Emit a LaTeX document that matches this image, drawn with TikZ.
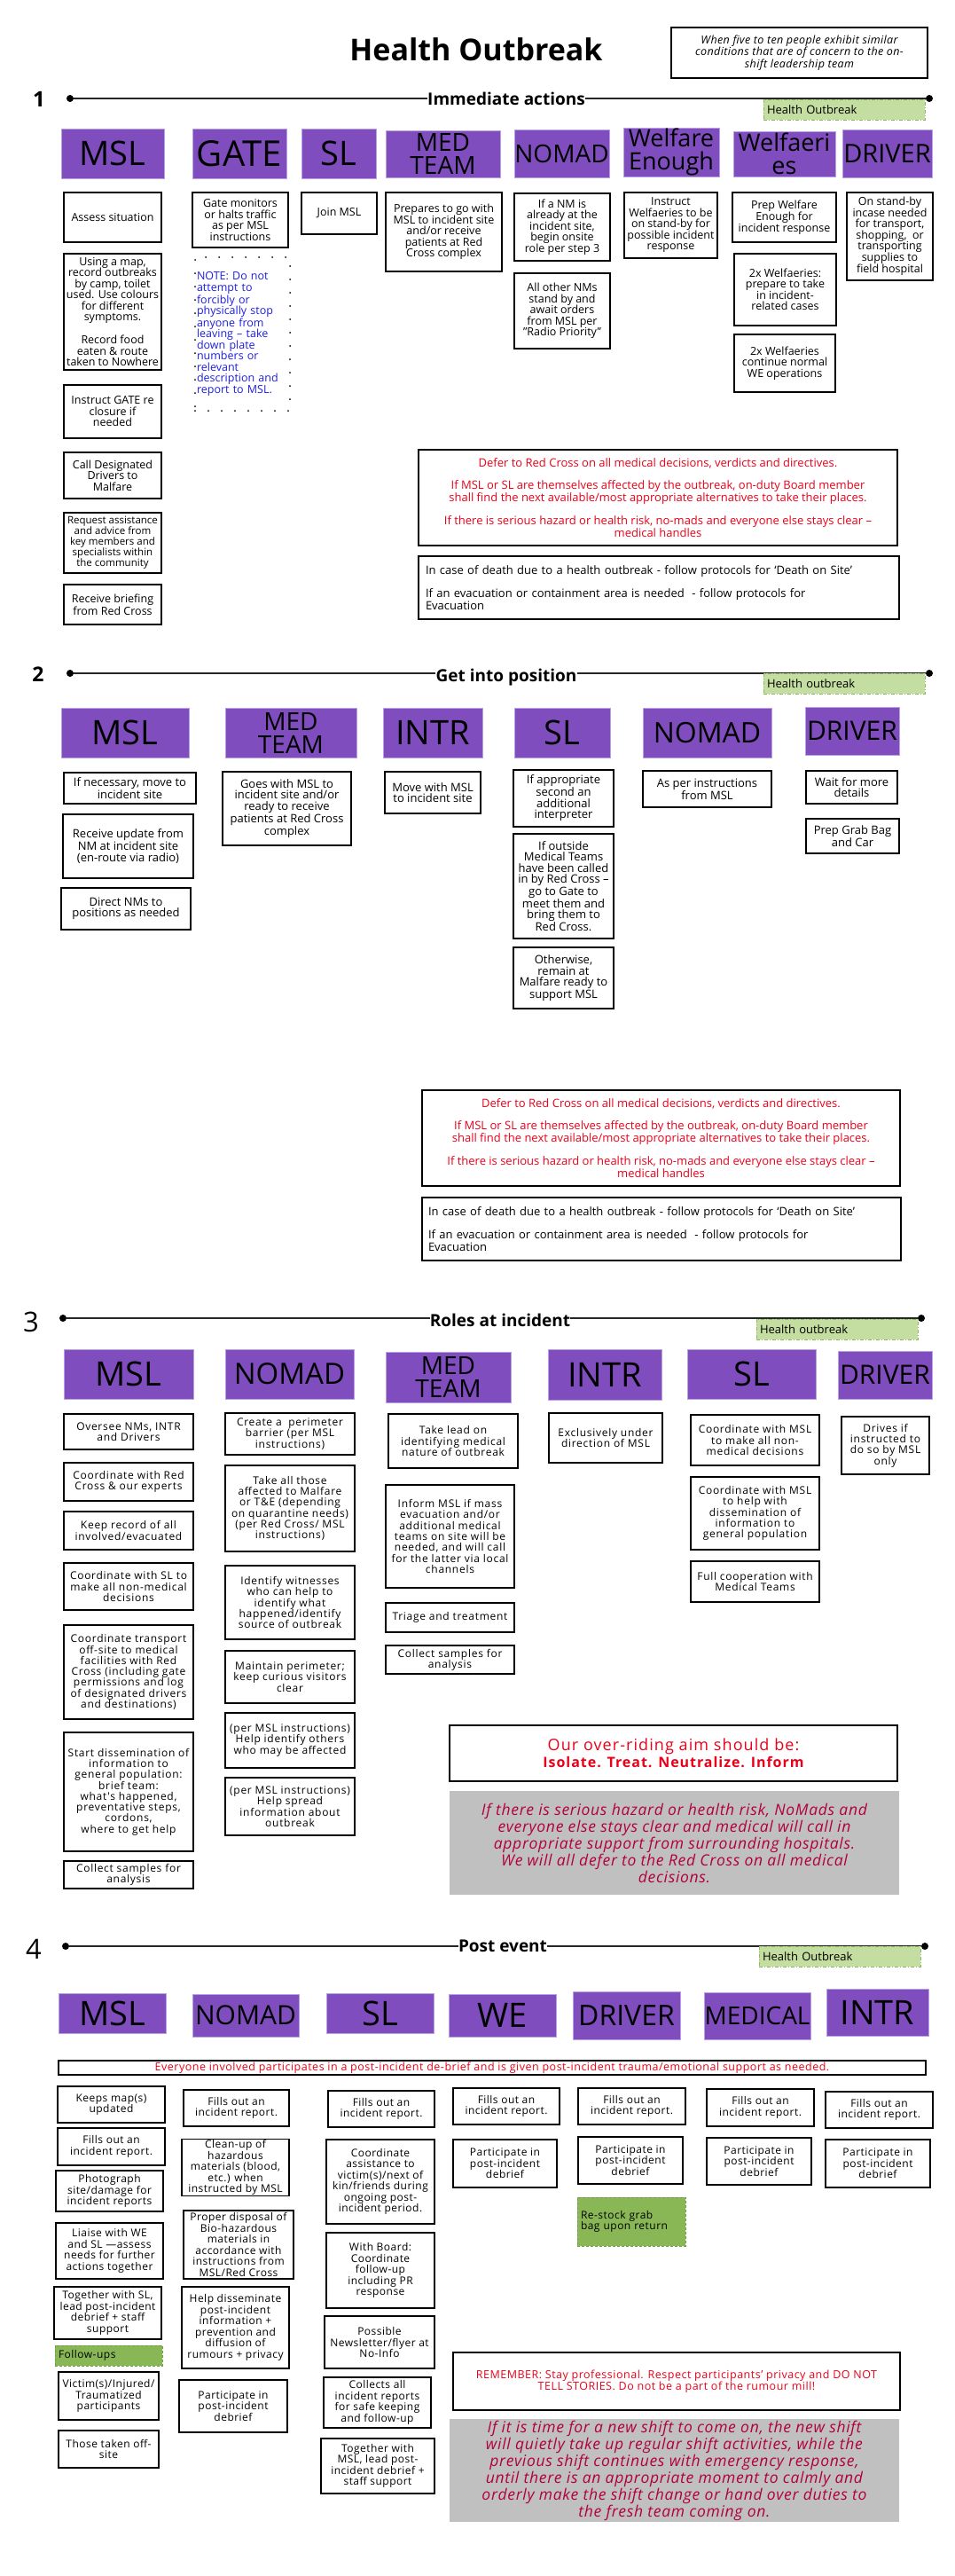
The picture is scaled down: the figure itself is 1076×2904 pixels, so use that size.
\documentclass[tikz,border=0pt]{standalone}
\usepackage{fontspec}
\setmainfont{Open Sans}
\newfontfamily\lsA[LetterSpace=6]{Open Sans}
\newfontfamily\lsB[LetterSpace=4]{Open Sans}
\newfontfamily\lsG[LetterSpace=4]{Open Sans}
\newfontfamily\lsI[LetterSpace=3]{Open Sans}
\definecolor{purp}{RGB}{128,77,190}
\definecolor{purpedge}{RGB}{185,160,228}
\definecolor{taglight}{RGB}{196,221,160}
\definecolor{tagedge}{RGB}{140,185,95}
\definecolor{taggreen}{RGB}{137,183,86}
\definecolor{taggreenedge}{RGB}{110,160,70}
\definecolor{redtxt}{RGB}{235,0,25}
\definecolor{crimson}{RGB}{178,0,60}
\definecolor{graybg}{RGB}{192,192,192}
\definecolor{bluetxt}{RGB}{30,30,225}
\newcommand{\fsone}{\fontsize{12.5}{12.5}\selectfont}
\newcommand{\fstwo}{\fontsize{13}{12.5}\selectfont}
\newcommand{\fsthree}{\lsA\fontsize{12}{12.3}\selectfont}
\newcommand{\fsfour}{\lsB\fontsize{12}{12.5}\selectfont}
\newcommand{\graytxt}{\lsG\itshape\fontsize{17.5}{19}\selectfont}
\tikzset{
  cbox/.style={draw=black, line width=1.5pt, fill=white, inner sep=1pt, align=center},
  pbox/.style={fill=purp, draw=purpedge, line width=1pt, inner sep=0pt, align=center},
  tagbox/.style={fill=taglight, draw=tagedge, line width=1pt, dash pattern=on 4pt off 2pt on 1pt off 2pt,
     inner xsep=4pt, inner ysep=0pt, align=left, font=\fontsize{13}{13}\selectfont},
  greenbox/.style={fill=taggreen, draw=taggreenedge, line width=1pt, dash pattern=on 3pt off 2pt,
     inner xsep=4pt, inner ysep=0pt, align=left},
  notebox/.style={draw=black, line width=2pt, line cap=round, dash pattern=on 0pt off 15pt,
     text=bluetxt, align=left, inner sep=1pt, font=\fsone},
  graybox/.style={fill=graybg, draw=none, inner sep=0pt, align=center, text=crimson, font=\graytxt},
  headlab/.style={font=\bfseries\fontsize{19}{19}\selectfont, inner sep=0pt, anchor=base},
  numlab/.style={inner sep=0pt, anchor=base},
  dotn/.style={circle, fill=black, inner sep=0pt, minimum size=8pt},
  hline/.style={line width=1.1pt, black!85},
}
\newcommand{\pb}[8]{\node[pbox, minimum width={#4-#2}, minimum height={#5-#3}, font=\fontsize{#6}{#7}\selectfont] (#1) at ({(#2+#4)/2},{(#3+#5)/2}) {#8};}
\newcommand{\bx}[7][]{\node[cbox, #1, minimum width={#5-#3}, minimum height={#6-#4}] (#2) at ({(#3+#5)/2},{(#4+#6)/2}) {#7};}
\newcommand{\tagb}[6]{\node[tagbox, text width={#4-#2-8}, minimum height={#5-#3}] (#1) at ({(#2+#4)/2},{(#3+#5)/2}) {#6};}
\begin{document}
\begin{tikzpicture}[x=1pt, y=-1pt]
\fill[white] (0,0) rectangle (1076,2904);
\useasboundingbox (0,0) rectangle (1076,2904);

% ---------- title ----------
\node[font=\bfseries\fontsize{34}{34}\selectfont, anchor=base, inner sep=0pt] (title) at (537,68) {Health Outbreak};
\bx[font=\lsI\itshape\fontsize{12.5}{12.5}\selectfont]{intro}{757}{31}{1046}{88}{When five to ten people exhibit similar\\conditions that are of concern to the on-\\shift leadership team}

% ---------- section 1 ----------
\node[numlab, font=\bfseries\fontsize{24}{24}\selectfont] (n1) at (44,120) {1};
\node[dotn] (d1a) at (79,111) {};
\node[dotn] (d1b) at (1048,111) {};
\node[headlab] (h1) at (571,118) {Immediate actions};
\draw[hline] (d1a) -- (d1a -| h1.west);
\draw[hline] (d1b -| h1.east) -- (d1b);
\tagb{t1}{861}{112}{1043}{135}{Health Outbreak}

\pb{p1msl}{69}{145}{185}{201}{38}{38}{MSL}
\pb{p1gate}{217}{145}{323}{201}{40}{40}{GATE}
\pb{p1sl}{340}{145}{424}{201}{38}{38}{SL}
\pb{p1med}{435}{147}{564}{200}{28}{26}{MED\\TEAM}
\pb{p1nomad}{580}{146}{687}{200}{28}{28}{NOMAD}
\pb{p1welf}{703}{144}{811}{199}{27}{26}{Welfare\\Enough}
\pb{p1wfs}{827}{148}{942}{199}{27}{26}{Welfaeri\\es}
\pb{p1drv}{950}{146}{1051}{200}{29}{29}{DRIVER}

\begin{scope}[cbox/.append style={font=\fsone}]
\bx{b1a}{72}{217}{182}{273}{Assess situation}
\bx{b1b}{72}{286}{182}{417}{Using a map,\\record outbreaks\\by camp, toilet\\used. Use colours\\for different\\symptoms.\\[12pt]Record food\\eaten \& route\\taken to Nowhere}
\bx{b1c}{72}{434}{182}{494}{Instruct GATE re\\closure if\\needed}
\bx{b1d}{72}{510}{182}{562}{Call Designated\\Drivers to\\Malfare}
\bx[font=\fontsize{11.5}{12}\selectfont]{b1e}{72}{578}{182}{646}{Request assistance\\and advice from\\key members and\\specialists within\\the community}
\bx{b1f}{72}{659}{182}{704}{Receive briefing\\from Red Cross}
\bx{b1g}{217}{217}{325}{279}{Gate monitors\\or halts traffic\\as per MSL\\instructions}
\bx{b1h}{340}{217}{425}{264}{Join MSL}
\bx{b1i}{435}{217}{566}{306}{Prepares to go with\\MSL to incident site\\and/or receive\\patients at Red\\Cross complex}
\bx{b1j}{580}{218}{688}{294}{If a NM is\\already at the\\incident site,\\begin onsite\\role per step 3}
\bx{b1k}{580}{308}{688}{393}{All other NMs\\stand by and\\await orders\\from MSL per\\"Radio Priority"}
\bx{b1l}{704}{217}{809}{291}{Instruct\\Welfaeries to be\\on stand-by for\\possible incident\\response}
\bx{b1m}{826}{217}{943}{273}{Prep Welfare\\Enough for\\incident response}
\bx{b1n}{828}{286}{943}{367}{2x Welfaeries:\\prepare to take\\in incident-\\related cases}
\bx{b1o}{828}{377}{942}{442}{2x Welfaeries\\continue normal\\WE operations}
\bx{b1p}{955}{217}{1052}{316}{On stand-by\\incase needed\\for transport,\\shopping,~ or\\transporting\\supplies to\\field hospital}
\end{scope}
\node[notebox, minimum width=107, minimum height=173, text width=103] (gnote) at (273.5,376.5) {NOTE: Do not\\attempt to\\forcibly or\\physically stop\\anyone from\\leaving – take\\down plate\\numbers or\\relevant\\description and\\report to MSL.};

\bx[text=redtxt, font=\fontsize{13}{12.5}\selectfont]{r1}{472}{507}{1012}{615}{Defer to Red Cross on all medical decisions, verdicts and directives.\\[12.5pt]If MSL or SL are themselves affected by the outbreak, on-duty Board member\\shall find the next available/most appropriate alternatives to take their places.\\[12.5pt]If there is serious hazard or health risk, no-mads and everyone else stays clear –\\medical handles}
\bx[align=left, text width=526, font=\fontsize{13}{12.5}\selectfont]{k1}{472}{627}{1014}{698}{In case of death due to a health outbreak - follow protocols for `Death on Site'\\[12.5pt]If an evacuation or containment area is needed~ - follow protocols for\\Evacuation}

% ---------- section 2 ----------
\node[numlab, font=\bfseries\fontsize{23}{23}\selectfont] (n2) at (43,768) {2};
\node[dotn] (d2a) at (79,759) {};
\node[dotn] (d2b) at (1048,759) {};
\node[headlab] (h2) at (571,768) {Get into position};
\draw[hline] (d2a) -- (d2a -| h2.west);
\draw[hline] (d2b -| h2.east) -- (d2b);
\tagb{t2}{861}{759}{1043}{782}{Health outbreak}

\pb{p2msl}{69}{798}{213}{854}{38}{38}{MSL}
\pb{p2med}{254}{798}{402}{854}{28}{26}{MED\\TEAM}
\pb{p2intr}{432}{798}{544}{854}{38}{38}{INTR}
\pb{p2sl}{580}{798}{688}{854}{38}{38}{SL}
\pb{p2nomad}{725}{798}{870}{854}{32}{32}{NOMAD}
\pb{p2drv}{908}{797}{1014}{851}{30}{30}{DRIVER}

\begin{scope}[cbox/.append style={font=\fstwo}]
\bx{b2a}{72}{871}{221}{906}{If necessary, move to\\incident site}
\bx{b2b}{71}{918}{218}{990}{Receive update from\\NM at incident site\\(en-route via radio)}
\bx{b2c}{69}{1001}{215}{1048}{Direct NMs to\\positions as needed}
\bx{b2d}{251}{870}{396}{953}{Goes with MSL to\\incident site and/or\\ready to receive\\patients at Red Cross\\complex}
\bx{b2e}{434}{870}{542}{917}{Move with MSL\\to incident site}
\bx{b2f}{579}{868}{692}{932}{If appropriate\\second an\\additional\\interpreter}
\bx{b2g}{579}{940}{692}{1058}{If outside\\Medical Teams\\have been called\\in by Red Cross –\\go to Gate to\\meet them and\\bring them to\\Red Cross.}
\bx{b2h}{579}{1068}{692}{1137}{Otherwise,\\remain at\\Malfare ready to\\support MSL}
\bx{b2i}{725}{869}{870}{910}{As per instructions\\from MSL}
\bx{b2j}{909}{869}{1012}{906}{Wait for more\\details}
\bx{b2k}{909}{923}{1014}{962}{Prep Grab Bag\\and Car}
\end{scope}
\bx[text=redtxt, font=\fontsize{13}{12.5}\selectfont]{r2}{476}{1229}{1015}{1337}{Defer to Red Cross on all medical decisions, verdicts and directives.\\[12.5pt]If MSL or SL are themselves affected by the outbreak, on-duty Board member\\shall find the next available/most appropriate alternatives to take their places.\\[12.5pt]If there is serious hazard or health risk, no-mads and everyone else stays clear –\\medical handles}
\bx[align=left, text width=526, font=\fontsize{13}{12.5}\selectfont]{k2}{476}{1350}{1016}{1421}{In case of death due to a health outbreak - follow protocols for `Death on Site'\\[12.5pt]If an evacuation or containment area is needed~ - follow protocols for\\Evacuation}

% ---------- section 3 ----------
\node[numlab, font=\fontsize{31}{31}\selectfont] (n3) at (35,1501) {3};
\node[dotn] (d3a) at (71,1486) {};
\node[dotn] (d3b) at (1039,1486) {};
\node[headlab] (h3) at (564,1495) {Roles at incident};
\draw[hline] (d3a) -- (d3a -| h3.west);
\draw[hline] (d3b -| h3.east) -- (d3b);
\tagb{t3}{853}{1487}{1035}{1510}{Health outbreak}

\pb{p3msl}{72}{1521}{218}{1577}{38}{38}{MSL}
\pb{p3nomad}{254}{1521}{399}{1577}{33}{33}{NOMAD}
\pb{p3med}{435}{1524}{576}{1581}{28}{26}{MED\\TEAM}
\pb{p3intr}{618}{1521}{746}{1578}{38}{38}{INTR}
\pb{p3sl}{775}{1521}{920}{1577}{38}{38}{SL}
\pb{p3drv}{945}{1523}{1051}{1577}{30}{30}{DRIVER}

\begin{scope}[cbox/.append style={font=\fsthree}]
\bx{c3a}{72}{1594}{218}{1634}{Oversee NMs, INTR\\and Drivers}
\bx{c3b}{72}{1649}{218}{1692}{Coordinate with Red\\Cross \& our experts}
\bx{c3c}{72}{1704}{218}{1747}{Keep record of all\\involved/evacuated}
\bx{c3d}{72}{1762}{218}{1815}{Coordinate with SL to\\make all non-medical\\decisions}
\bx{c3e}{72}{1832}{218}{1938}{Coordinate transport\\off-site to medical\\facilities with Red\\Cross (including gate\\permissions and log\\of designated drivers\\and destinations)}
\bx{c3f}{72}{1953}{218}{2087}{Start dissemination of\\information to\\general population:\\brief team:\\what's happened,\\preventative steps,\\cordons,\\where to get help}
\bx{c3g}{72}{2098}{218}{2129}{Collect samples for\\analysis}
\bx{c3h}{254}{1593}{400}{1640}{Create a~ perimeter\\barrier (per MSL\\instructions)}
\bx{c3i}{254}{1652}{400}{1749}{Take all those\\affected to Malfare\\or T\&E (depending\\on quarantine needs)\\(per Red Cross/ MSL\\instructions)}
\bx{c3j}{254}{1765}{400}{1848}{Identify witnesses\\who can help to\\identify what\\happened/identify\\source of outbreak}
\bx{c3k}{254}{1861}{400}{1920}{Maintain perimeter;\\keep curious visitors\\clear}
\bx{c3l}{254}{1931}{400}{1993}{(per MSL instructions)\\Help identify others\\who may be affected}
\bx{c3m}{254}{2004}{400}{2069}{(per MSL instructions)\\Help spread\\information about\\outbreak}
\bx{c3n}{438}{1594}{584}{1655}{Take lead on\\identifying medical\\nature of outbreak}
\bx{c3o}{435}{1674}{580}{1790}{Inform MSL if mass\\evacuation and/or\\additional medical\\teams on site will be\\needed, and will call\\for the latter via local\\channels}
\bx{c3p}{435}{1807}{580}{1840}{Triage and treatment}
\bx{c3q}{435}{1855}{580}{1887}{Collect samples for\\analysis}
\bx{c3r}{619}{1593}{747}{1649}{Exclusively under\\direction of MSL}
\bx{c3s}{779}{1595}{924}{1652}{Coordinate with MSL\\to make all non-\\medical decisions}
\bx{c3t}{779}{1665}{924}{1747}{Coordinate with MSL\\to help with\\dissemination of\\information to\\general population}
\bx{c3u}{779}{1760}{924}{1806}{Full cooperation with\\Medical Teams}
\bx{c3v}{949}{1597}{1048}{1662}{Drives if\\instructed to\\do so by MSL\\only}
\end{scope}
\bx[text=redtxt, font=\lsA\fontsize{18}{19}\selectfont]{aim}{507}{1945}{1012}{2008}{Our over-riding aim should be:\\{\bfseries\fontsize{16}{19}\selectfont Isolate. Treat. Neutralize. Inform}}
\node[graybox, minimum width=507, minimum height=117] (g3) at (760.5,2077.5) {If there is serious hazard or health risk, NoMads and\\everyone else stays clear and medical will call in\\appropriate support from surrounding hospitals.\\We will all defer to the Red Cross on all medical\\decisions.};

% ---------- section 4 ----------
\node[numlab, font=\fontsize{31}{31}\selectfont] (n4) at (38,2208) {4};
\node[dotn] (d4a) at (74,2194) {};
\node[dotn] (d4b) at (1043,2194) {};
\node[headlab] (h4) at (567,2200) {Post event};
\draw[hline] (d4a) -- (d4a -| h4.west);
\draw[hline] (d4b -| h4.east) -- (d4b);
\tagb{t4}{856}{2194}{1038}{2217}{Health Outbreak}

\pb{p4msl}{66}{2247}{187}{2292}{38}{38}{MSL}
\pb{p4nomad}{217}{2248}{337}{2296}{30}{30}{NOMAD}
\pb{p4sl}{368}{2247}{489}{2292}{38}{38}{SL}
\pb{p4we}{506}{2248}{627}{2296}{38}{38}{WE}
\pb{p4drv}{646}{2245}{767}{2299}{32}{32}{DRIVER}
\pb{p4med}{794}{2246}{914}{2299}{28}{28}{MEDICAL}
\pb{p4intr}{932}{2242}{1047}{2295}{38}{38}{INTR}

\bx[text=redtxt, inner sep=0pt, font=\lsB\fontsize{12.5}{12.5}\selectfont]{banner}{66}{2323}{1044}{2339}{Everyone involved participates in a post-incident de-brief and is given post-incident trauma/emotional support as needed.}

\begin{scope}[cbox/.append style={font=\fsfour}]
\bx{d4a1}{65}{2352}{186}{2393}{Keeps map(s)\\updated}
\bx{d4a2}{65}{2399}{186}{2441}{Fills out an\\incident report.}
\bx{d4a3}{63}{2447}{184}{2493}{Photograph\\site/damage for\\incident reports}
\bx{d4a4}{63}{2506}{184}{2569}{Liaise with WE\\and SL —assess\\needs for further\\actions together}
\bx{d4a5}{61}{2578}{182}{2637}{Together with SL,\\lead post-incident\\debrief + staff\\support}
\bx{d4a6}{66}{2674}{179}{2728}{Victim(s)/Injured/\\Traumatized\\participants}
\bx{d4a7}{66}{2740}{179}{2782}{Those taken off-\\site}
\bx{d4b1}{207}{2356}{326}{2397}{Fills out an\\incident report.}
\bx{d4b2}{205}{2412}{326}{2475}{Clean-up of\\hazardous\\materials (blood,\\etc.) when\\instructed by MSL}
\bx{d4b3}{207}{2492}{331}{2569}{Proper disposal of\\Bio-hazardous\\materials in\\accordance with\\instructions from\\MSL/Red Cross}
\bx{d4b4}{205}{2578}{326}{2670}{Help disseminate\\post-incident\\information +\\prevention and\\diffusion of\\rumours + privacy}
\bx{d4b5}{202}{2683}{324}{2742}{Participate in\\post-incident\\debrief}
\bx{d4c1}{370}{2357}{490}{2398}{Fills out an\\incident report.}
\bx{d4c2}{368}{2412}{490}{2507}{Coordinate\\assistance to\\victim(s)/next of\\kin/friends during\\ongoing post-\\incident period.}
\bx{d4c3}{368}{2517}{490}{2602}{With Board:\\Coordinate\\follow-up\\including PR\\response}
\bx{d4c4}{366}{2611}{490}{2670}{Possible\\Newsletter/flyer at\\No-Info}
\bx{d4c5}{365}{2680}{486}{2737}{Collects all\\incident reports\\for safe keeping\\and follow-up}
\bx{d4c6}{362}{2749}{490}{2811}{Together with\\MSL, lead post-\\incident debrief +\\staff support}
\bx{d4d1}{511}{2354}{631}{2395}{Fills out an\\incident report.}
\bx{d4d2}{511}{2412}{628}{2466}{Participate in\\post-incident\\debrief}
\bx{d4e1}{652}{2354}{773}{2395}{Fills out an\\incident report.}
\bx{d4e2}{652}{2409}{770}{2462}{Participate in\\post-incident\\debrief}
\bx{d4f1}{797}{2355}{918}{2397}{Fills out an\\incident report.}
\bx{d4f2}{797}{2410}{915}{2463}{Participate in\\post-incident\\debrief}
\bx{d4g1}{931}{2358}{1052}{2399}{Fills out an\\incident report.}
\bx{d4g2}{931}{2412}{1049}{2466}{Participate in\\post-incident\\debrief}
\end{scope}
\node[greenbox, font=\fsfour, text width=113, minimum height=23] (fu) at (122.5,2655.5) {Follow-ups};
\node[greenbox, font=\fsfour, text width=114, minimum height=55] (rs) at (712,2504.5) {Re-stock grab\\bag upon return};

\bx[text=redtxt, font=\lsB\fontsize{12.5}{12.3}\selectfont]{rem}{511}{2652}{1015}{2717}{REMEMBER: Stay professional. Respect participants’ privacy and DO NOT\\TELL STORIES. Do not be a part of the rumour mill!}
\node[graybox, minimum width=507, minimum height=116] (g4) at (760.5,2785) {If it is time for a new shift to come on, the new shift\\will quietly take up regular shift activities, while the\\previous shift continues with emergency response,\\until there is an appropriate moment to calmly and\\orderly make the shift change or hand over duties to\\the fresh team coming on.};
\end{tikzpicture}
\end{document}
